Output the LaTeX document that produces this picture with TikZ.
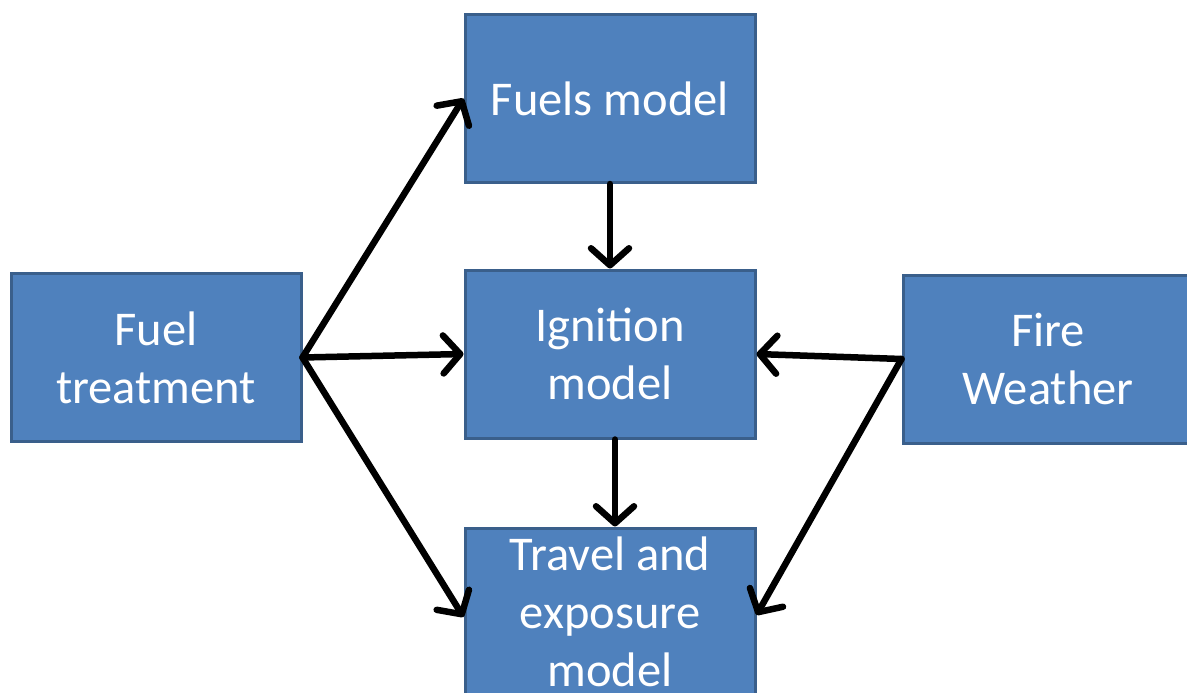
\documentclass[tikz,border=0pt]{standalone}
\usepackage{fontspec}
\setmainfont{Carlito}
\usetikzlibrary{arrows.meta}
\definecolor{boxfill}{HTML}{4F81BD}
\definecolor{boxline}{HTML}{3A5F8B}
\tikzset{
  block/.style={rectangle, draw=boxline, line width=3pt, fill=boxfill,
    minimum width=290pt, minimum height=168pt, text=white, align=center,
    font=\fontsize{48.5}{58}\selectfont, inner sep=0pt},
  flow/.style={line width=6.5pt, line cap=round, line join=round,
    -{Straight Barb[length=17pt, width=38pt, line cap=round, line join=round]}}
}
\begin{document}
\begin{tikzpicture}[x=1pt, y=-1pt]
\useasboundingbox (0,0) rectangle (1187,693);
\clip (0,0) rectangle (1187,693);
\fill[white] (0,0) rectangle (1187,693);
\node[block] (fuels) at (610,98.5) {Fuels model};
\node[block] (ignition) at (610,354) {Ignition\\model};
\node[block] (travel) at (610,612) {Travel and\\exposure\\model};
\node[block] (treat) at (156,357.5) {Fuel\\treatment};
\node[block] (weather) at (1048,359) {Fire\\Weather};
\coordinate (src) at (treat.east);
\coordinate (wsrc) at (weather.west);
\draw[flow] (src) -- (fuels.west);
\draw[flow] (src) -- (ignition.west);
\draw[flow] (src) -- ([yshift=-5pt]travel.west);
\draw[flow] (fuels.south) -- (ignition.north);
\draw[flow] ([xshift=5pt]ignition.south) -- ([xshift=5pt]travel.north);
\draw[flow] (wsrc) -- (ignition.east);
\draw[flow] (wsrc) -- ([yshift=-3pt]travel.east);
\end{tikzpicture}
\end{document}
